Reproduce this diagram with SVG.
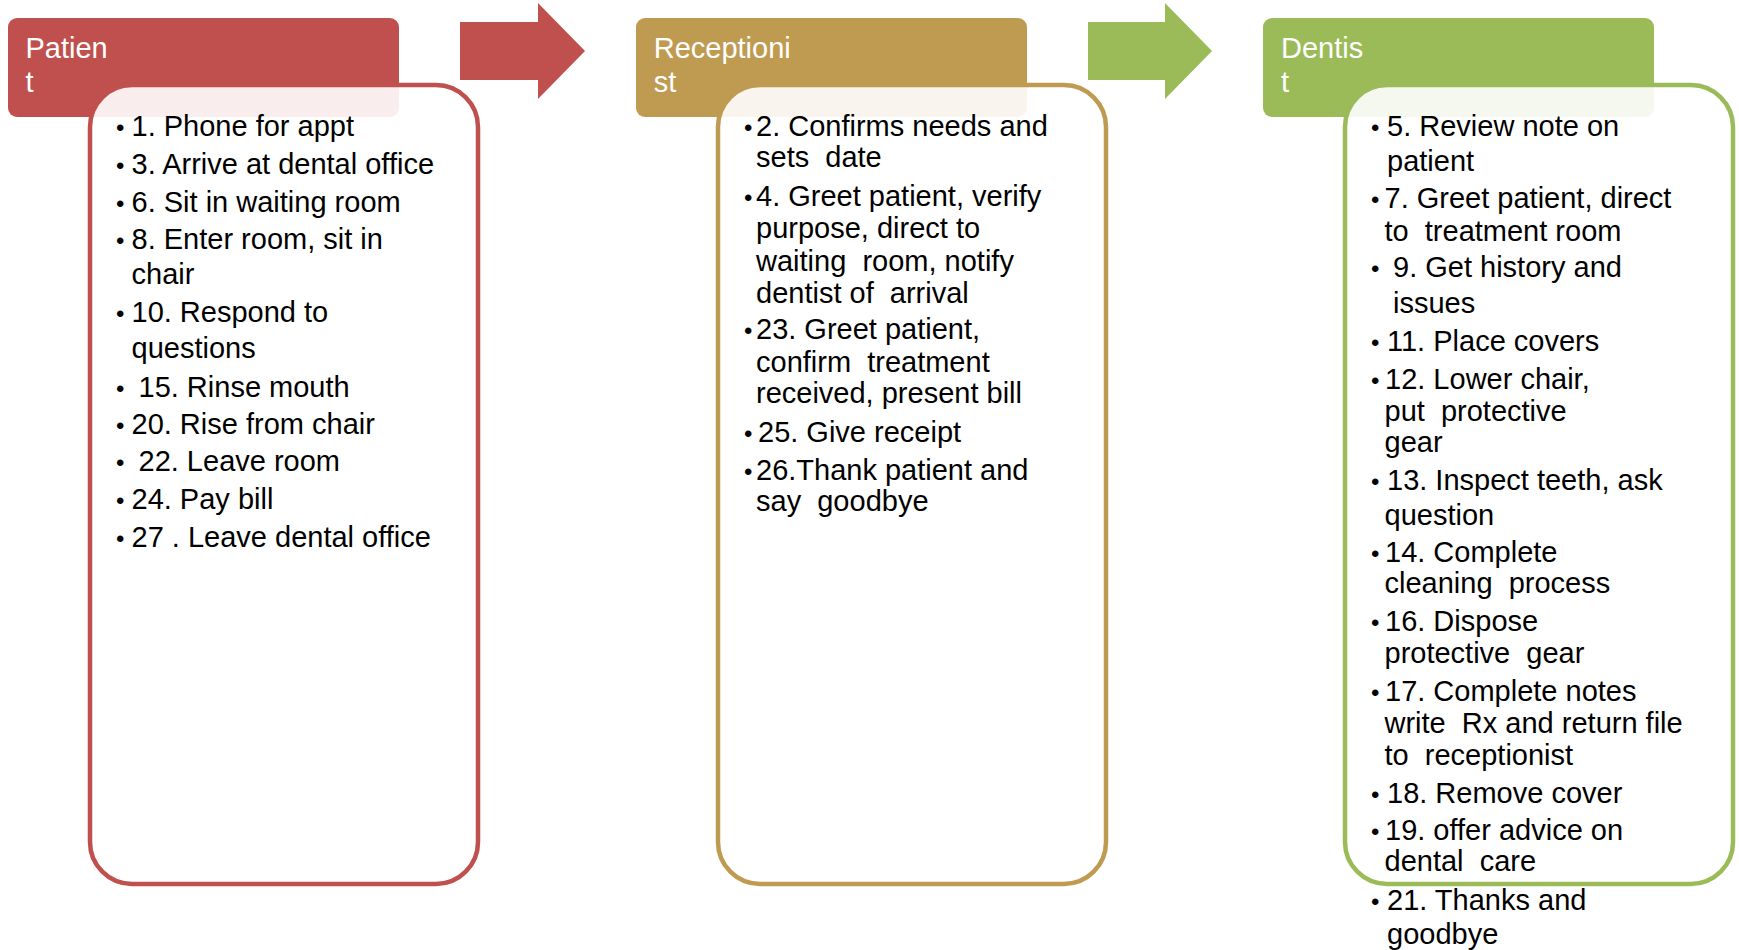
<svg xmlns="http://www.w3.org/2000/svg" width="1739" height="950" viewBox="0 0 1739 950">
<style>
.hdr{stroke:none}
.body{fill:#FFFFFF;fill-opacity:0.9;stroke-width:4.5}
.htxt{font-family:"Liberation Sans",Arial,sans-serif;font-size:29px;fill:#FFFFFF}
.btxt{font-family:"Liberation Sans",Arial,sans-serif;font-size:29px;fill:#000000;white-space:pre}
.bul{font-family:"Liberation Sans",Arial,sans-serif;font-size:24px;fill:#000000}
</style>
<rect width="1739" height="950" fill="#FFFFFF"/>
<g id="connectors">
  <polygon id="arrow1" points="460,22 538,22 538,3 585,51 538,99 538,80 460,80" fill="#C0504D"/>
  <polygon id="arrow2" points="1088,22 1165,22 1165,3 1212,51 1165,99 1165,80 1088,80" fill="#9BBB59"/>
</g>
<g id="patient">
  <rect class="hdr" x="8" y="18" width="391" height="99" rx="9" fill="#C0504D"/>
  <text class="htxt" x="25.5" y="58.3">Patien</text>
  <text class="htxt" x="25.5" y="91.7">t</text>
  <rect class="body" x="90" y="85" width="388" height="799" rx="42" stroke="#C0504D"/>
  <g>
    <text class="bul" x="116" y="135.5">•</text><text class="btxt" x="131.5" y="135.5">1. Phone for appt</text>
    <text class="bul" x="116" y="173.8">•</text><text class="btxt" x="131.5" y="173.8">3. Arrive at dental office</text>
    <text class="bul" x="116" y="211.5">•</text><text class="btxt" x="131.5" y="211.5">6. Sit in waiting room</text>
    <text class="bul" x="116" y="248.8">•</text><text class="btxt" x="131.5" y="248.8">8. Enter room, sit in</text>
    <text class="btxt" x="131.5" y="283.8">chair</text>
    <text class="bul" x="116" y="322.2">•</text><text class="btxt" x="131.5" y="322.2">10. Respond to</text>
    <text class="btxt" x="131.5" y="357.8">questions</text>
    <text class="bul" x="116" y="396.5">•</text><text class="btxt" x="138.5" y="396.5">15. Rinse mouth</text>
    <text class="bul" x="116" y="433.8">•</text><text class="btxt" x="131.5" y="433.8">20. Rise from chair</text>
    <text class="bul" x="116" y="471.2">•</text><text class="btxt" x="138.5" y="471.2">22. Leave room</text>
    <text class="bul" x="116" y="508.8">•</text><text class="btxt" x="131.5" y="508.8">24. Pay bill</text>
    <text class="bul" x="116" y="546.5">•</text><text class="btxt" x="131.5" y="546.5">27 . Leave dental office</text>
  </g>
</g>
<g id="receptionist">
  <rect class="hdr" x="636" y="18" width="391" height="99" rx="9" fill="#BF9B52"/>
  <text class="htxt" x="653.7" y="58.3">Receptioni</text>
  <text class="htxt" x="653.7" y="91.7">st</text>
  <rect class="body" x="718" y="85" width="388" height="799" rx="42" stroke="#BF9B52"/>
  <g>
    <text class="bul" x="744" y="135.5">•</text><text class="btxt" x="756" y="135.5">2. Confirms needs and</text>
    <text class="btxt" x="756" y="167.2">sets  date</text>
    <text class="bul" x="744" y="205.5">•</text><text class="btxt" x="756" y="205.5">4. Greet patient, verify</text>
    <text class="btxt" x="756" y="237.8">purpose, direct to</text>
    <text class="btxt" x="756" y="270.5">waiting  room, notify</text>
    <text class="btxt" x="756" y="303">dentist of  arrival</text>
    <text class="bul" x="744" y="338.8">•</text><text class="btxt" x="756" y="338.8">23. Greet patient,</text>
    <text class="btxt" x="756" y="371.5">confirm  treatment</text>
    <text class="btxt" x="756" y="403.2">received, present bill</text>
    <text class="bul" x="744" y="442.2">•</text><text class="btxt" x="758" y="442.2">25. Give receipt</text>
    <text class="bul" x="744" y="479.8">•</text><text class="btxt" x="756" y="479.8">26.Thank patient and</text>
    <text class="btxt" x="756" y="511.2">say  goodbye</text>
  </g>
</g>
<g id="dentist">
  <rect class="hdr" x="1263" y="18" width="391" height="99" rx="9" fill="#9BBB59"/>
  <text class="htxt" x="1281" y="58.3">Dentis</text>
  <text class="htxt" x="1281" y="91.7">t</text>
  <rect class="body" x="1345" y="85" width="388" height="799" rx="42" stroke="#9BBB59"/>
  <g>
    <text class="bul" x="1371" y="135.5">•</text><text class="btxt" x="1387" y="135.5">5. Review note on</text>
    <text class="btxt" x="1387" y="170.5">patient</text>
    <text class="bul" x="1371" y="207.8">•</text><text class="btxt" x="1384.5" y="207.8">7. Greet patient, direct</text>
    <text class="btxt" x="1384.5" y="240.5">to  treatment room</text>
    <text class="bul" x="1371" y="277.2">•</text><text class="btxt" x="1393" y="277.2">9. Get history and</text>
    <text class="btxt" x="1393" y="313">issues</text>
    <text class="bul" x="1371" y="350.5">•</text><text class="btxt" x="1387" y="350.5">11. Place covers</text>
    <text class="bul" x="1371" y="388.8">•</text><text class="btxt" x="1385" y="388.8">12. Lower chair,</text>
    <text class="btxt" x="1384.5" y="420.5">put  protective</text>
    <text class="btxt" x="1384.5" y="452.2">gear</text>
    <text class="bul" x="1371" y="489.5">•</text><text class="btxt" x="1387" y="489.5">13. Inspect teeth, ask</text>
    <text class="btxt" x="1384.5" y="524.5">question</text>
    <text class="bul" x="1371" y="561.5">•</text><text class="btxt" x="1385" y="561.5">14. Complete</text>
    <text class="btxt" x="1384.5" y="593.2">cleaning  process</text>
    <text class="bul" x="1371" y="630.5">•</text><text class="btxt" x="1385" y="630.5">16. Dispose</text>
    <text class="btxt" x="1384.5" y="663.2">protective  gear</text>
    <text class="bul" x="1371" y="700.5">•</text><text class="btxt" x="1385" y="700.5">17. Complete notes</text>
    <text class="btxt" x="1384.5" y="733.2">write  Rx and return file</text>
    <text class="btxt" x="1384.5" y="764.5">to  receptionist</text>
    <text class="bul" x="1371" y="802.8">•</text><text class="btxt" x="1387" y="802.8">18. Remove cover</text>
    <text class="bul" x="1371" y="839.8">•</text><text class="btxt" x="1385" y="839.8">19. offer advice on</text>
    <text class="btxt" x="1384.5" y="871.2">dental  care</text>
    <text class="bul" x="1371" y="909.8">•</text><text class="btxt" x="1387" y="909.8">21. Thanks and</text>
    <text class="btxt" x="1387" y="943.8">goodbye</text>
  </g>
</g>
</svg>
